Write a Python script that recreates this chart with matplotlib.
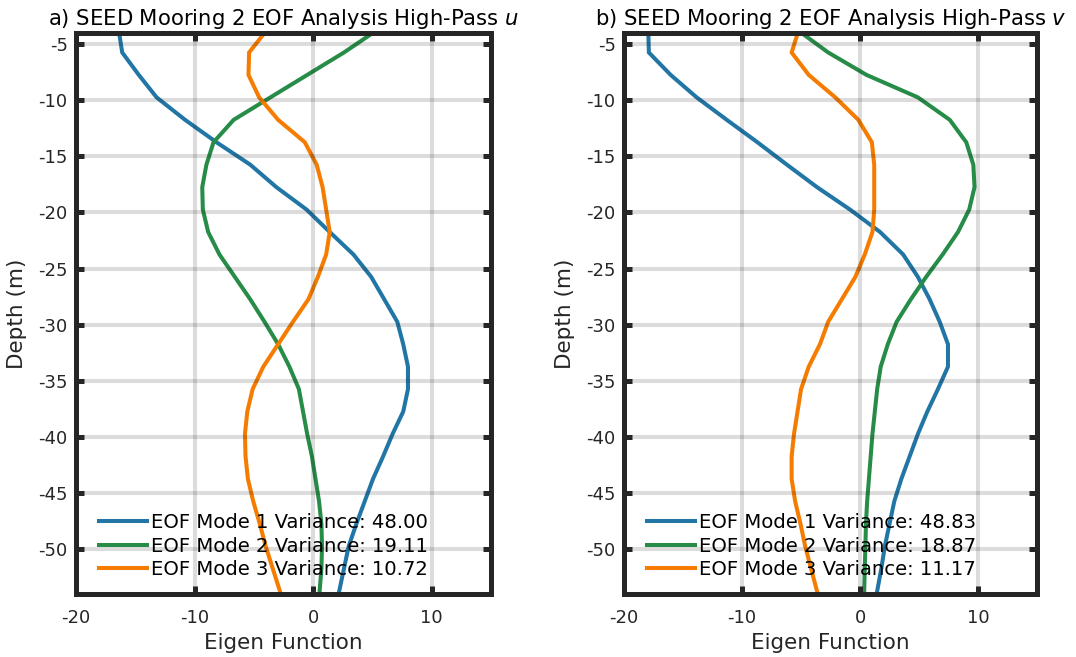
import numpy as np
import matplotlib
matplotlib.use('Agg')
import matplotlib.pyplot as plt

# depth bins (m), 2 m spacing
depth = [-3.75, -5.75, -7.75, -9.75, -11.75, -13.75, -15.75, -17.75, -19.75,
         -21.75, -23.75, -25.75, -27.75, -29.75, -31.75, -33.75, -35.75,
         -37.75, -39.75, -41.75, -43.75, -45.75, -47.75, -49.75, -51.75, -53.75]

# high-pass u eigenfunctions
u_mode1 = [-16.4, -16.1, -14.7, -13.2, -10.8, -8.15, -5.3, -3.1, -0.55, 1.4,
           3.4, 4.9, 6.0, 7.1, 7.6, 8.0, 8.0, 7.6, 6.7, 5.9, 5.05, 4.35, 3.65,
           3.0, 2.6, 2.2]
u_mode2 = [5.4, 2.6, -0.5, -3.6, -6.7, -8.4, -9.0, -9.35, -9.3, -8.85, -7.9,
           -6.6, -5.3, -4.1, -2.95, -2.0, -1.2, -0.85, -0.5, -0.1, 0.2, 0.5,
           0.7, 0.75, 0.7, 0.55]
u_mode3 = [-3.9, -5.4, -5.45, -4.55, -2.95, -0.7, 0.3, 0.8, 1.1, 1.4, 1.1, 0.4,
           -0.4, -1.7, -2.95, -4.2, -5.1, -5.55, -5.75, -5.7, -5.5, -5.05, -4.5,
           -4.0, -3.4, -2.8]
u_var = [48.00, 19.11, 10.72]

# high-pass v eigenfunctions
v_mode1 = [-17.95, -17.9, -16.05, -13.85, -11.3, -8.7, -6.2, -3.65, -0.85,
           1.7, 3.65, 4.9, 5.9, 6.75, 7.45, 7.45, 6.6, 5.7, 4.9, 4.2, 3.5, 2.9,
           2.5, 2.1, 1.8, 1.45]
v_mode2 = [-5.3, -2.7, 0.55, 4.9, 7.6, 9.0, 9.6, 9.7, 9.25, 8.3, 7.0, 5.6, 4.3,
           3.1, 2.35, 1.75, 1.45, 1.25, 1.05, 0.9, 0.75, 0.6, 0.5, 0.45, 0.4,
           0.35]
v_mode3 = [-5.2, -5.8, -4.35, -2.1, -0.15, 1.0, 1.2, 1.2, 1.2, 1.05, 0.4, -0.4,
           -1.55, -2.7, -3.4, -4.35, -5.0, -5.3, -5.6, -5.8, -5.8, -5.5, -5.05,
           -4.65, -4.15, -3.65]
v_var = [48.83, 18.87, 11.17]

COLORS = ['#2176a6', '#268c47', '#f57c00']
INK = '#262626'

plt.rcParams['font.family'] = 'DejaVu Sans'
plt.rcParams['axes.unicode_minus'] = False
plt.rcParams['mathtext.fontset'] = 'dejavusans'

fig = plt.figure(figsize=(10.76, 6.57), dpi=100)
fig.patch.set_facecolor('white')

panels = [
    ([0.0706, 0.096, 0.3857, 0.854], 'a) SEED Mooring 2 EOF Analysis High-Pass $u$',
     [u_mode1, u_mode2, u_mode3], u_var),
    ([0.580, 0.096, 0.3838, 0.854], 'b) SEED Mooring 2 EOF Analysis High-Pass $v$',
     [v_mode1, v_mode2, v_mode3], v_var),
]

for rect, title, modes, var in panels:
    ax = fig.add_axes(rect)
    for k, (prof, c) in enumerate(zip(modes, COLORS)):
        ax.plot(prof, depth, color=c, lw=2.9, solid_joinstyle='miter',
                label=f'EOF Mode {k + 1} Variance: {var[k]:.2f}', zorder=2)
    ax.set_xlim(-20, 15)
    ax.set_ylim(-54, -4)
    ax.set_xticks([-20, -10, 0, 10])
    ax.set_yticks(np.arange(-50, -4, 5))
    # grid sits on top of the curves, semi-transparent
    ax.grid(True, color=INK, alpha=0.16, lw=2.9, zorder=3)
    ax.set_axisbelow(False)
    for sp in ax.spines.values():
        sp.set_color(INK)
        sp.set_linewidth(3.6)
        sp.set_zorder(5)
    ax.tick_params(direction='in', length=5.5, width=3.6, colors=INK,
                   labelsize=13, top=True, right=True, pad=6)
    ax.tick_params(axis='x', pad=11)
    ax.set_xlabel('Eigen Function', fontsize=15.5, color=INK, labelpad=4)
    ax.set_ylabel('Depth (m)', fontsize=15.5, color=INK)
    ax.yaxis.set_label_coords(-0.118, 0.5)
    ax.set_title(title, fontsize=15.2, color='black', pad=6)
    leg = ax.legend(loc='lower left', bbox_to_anchor=(0.02, 0.0), frameon=False,
                    fontsize=14.1, handlelength=2.45, handletextpad=0.2,
                    labelspacing=0.23, borderaxespad=0.35)
    for t in leg.get_texts():
        t.set_color('black')

fig.savefig('out.png', dpi=100, facecolor='white')
